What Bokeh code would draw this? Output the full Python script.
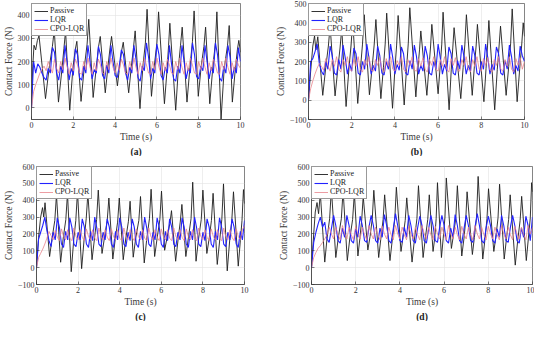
import numpy as np
from bokeh.plotting import figure
from bokeh.layouts import column, row
from bokeh.models import Title, Legend, LegendItem, FixedTicker, Range1d
from bokeh.embed import file_html
from bokeh.resources import INLINE

# sample times for the controlled responses (s)
t_grid = np.round(np.arange(0, 10.001, 0.1), 2)

# ---------------- panel (a) ----------------
a_pass_t = [0, 0.06, 0.12, 0.20, 0.28, 0.36,
            0.67, 0.84, 1.00, 1.09, 1.29, 1.45, 1.55, 1.63, 1.83, 1.98, 2.09, 2.17,
            2.37, 2.52, 2.66, 2.74, 2.95, 3.10, 3.21, 3.29, 3.53, 3.66, 3.76, 3.83,
            4.11, 4.22, 4.32, 4.39, 4.65, 4.78, 4.88, 4.96, 5.19, 5.33, 5.45, 5.53,
            5.74, 5.88, 6.00, 6.08, 6.36, 6.49, 6.56, 6.62, 6.90, 7.03, 7.13, 7.21,
            7.44, 7.58, 7.70, 7.78, 7.98, 8.12, 8.25, 8.33, 8.53, 8.68, 8.80, 8.87,
            9.07, 9.22, 9.38, 9.46, 9.61, 9.76, 9.85, 9.92, 10.0]
a_pass_v = [0, 180, 270, 250, 290, 311,
            40, 170, 265, 336, 25, 160, 255, 332, -10, 170, 250, 287,
            28, 170, 275, 382, 45, 175, 265, 308, 65, 180, 260, 308,
            95, 180, 250, 283, 65, 180, 260, 332, -3, 180, 280, 425,
            50, 185, 280, 414, 18, 170, 270, 365, -10, 175, 270, 348,
            25, 175, 285, 418, 50, 180, 265, 348, 18, 180, 280, 414,
            -48, 170, 270, 355, 25, 175, 250, 291, 240]
a_lqr = [0, 200, 150, 190, 175, 150, 130, 120, 170, 150, 260,
         240, 150, 120, 180, 150, 270, 200, 120, 170, 140,
         255, 230, 130, 120, 180, 150, 270, 200, 125, 165,
         150, 265, 230, 140, 125, 185, 150, 270, 200, 140,
         130, 180, 250, 230, 150, 120, 175, 150, 270, 210,
         130, 115, 180, 160, 280, 220, 125, 170, 150, 275,
         230, 140, 120, 175, 150, 270, 190, 125, 115, 180,
         150, 270, 200, 125, 170, 150, 280, 230, 135, 125,
         180, 160, 270, 200, 125, 175, 150, 280, 230, 130,
         115, 180, 150, 270, 220, 125, 175, 150, 260, 200]
a_cpo = [0, 70, 100, 125, 150, 165, 180, 160, 200, 175, 150,
         210, 170, 150, 200, 165, 215, 180, 145, 195, 160,
         210, 185, 150, 145, 200, 165, 215, 175, 145, 195,
         160, 210, 185, 150, 145, 200, 165, 215, 175, 150,
         195, 160, 210, 185, 150, 145, 200, 165, 215, 175,
         145, 195, 160, 215, 185, 150, 145, 200, 165, 215,
         175, 145, 195, 160, 210, 185, 150, 145, 200, 165,
         215, 175, 145, 195, 160, 215, 185, 150, 145, 200,
         165, 215, 175, 145, 195, 160, 210, 185, 150, 145,
         200, 165, 215, 175, 145, 195, 160, 210, 185, 170]

# ---------------- panel (b) ----------------
b_pass_t = [0, 0.10, 0.20, 0.28, 0.34, 0.43,
            0.66, 0.80, 0.92, 1.00, 1.23, 1.36, 1.46, 1.54, 1.74, 1.87, 1.97, 2.05,
            2.28, 2.41, 2.50, 2.58, 2.82, 2.95, 3.04, 3.12, 3.35, 3.47, 3.55, 3.62,
            3.89, 4.00, 4.08, 4.15, 4.43, 4.54, 4.62, 4.69, 4.97, 5.07, 5.14, 5.20,
            5.48, 5.58, 5.65, 5.71, 6.00, 6.10, 6.17, 6.23, 6.51, 6.61, 6.68, 6.74,
            7.05, 7.16, 7.24, 7.31, 7.58, 7.68, 7.76, 7.82, 8.12, 8.22, 8.29, 8.35,
            8.62, 8.74, 8.82, 8.89, 9.15, 9.27, 9.36, 9.43, 9.66, 9.78, 9.87, 9.94, 10.0]
b_pass_v = [0, 150, 280, 333, 260, 328,
            25, 170, 280, 383, 22, 165, 270, 372, -33, 160, 285, 405,
            -17, 170, 290, 442, 28, 175, 285, 417, 8, 170, 290, 450,
            -42, 160, 285, 438, -25, 165, 295, 478, 17, 170, 260, 358,
            25, 175, 275, 392, 33, 180, 290, 455, -50, 160, 270, 375,
            8, 170, 290, 442, 25, 175, 280, 392, -8, 165, 285, 412,
            -50, 160, 275, 383, 25, 175, 295, 472, -8, 165, 285, 400, 330]
b_lqr = [0, 200, 215, 250, 290, 190, 150, 130, 200, 160, 280,
         230, 140, 130, 210, 160, 285, 220, 135, 190, 150,
         270, 240, 140, 130, 200, 160, 290, 220, 135, 180,
         150, 280, 230, 140, 130, 200, 160, 290, 220, 135,
         185, 155, 275, 240, 140, 130, 205, 160, 285, 225,
         135, 180, 150, 280, 230, 140, 130, 200, 160, 290,
         220, 135, 185, 150, 275, 240, 140, 130, 205, 160,
         285, 225, 135, 180, 150, 280, 230, 140, 130, 200,
         160, 290, 220, 135, 185, 155, 275, 240, 140, 130,
         205, 160, 285, 225, 135, 180, 150, 280, 230, 200]
b_cpo = [0, 60, 100, 135, 165, 190, 175, 155, 215, 180, 150,
         210, 175, 225, 160, 145, 210, 180, 225, 160, 150,
         215, 175, 225, 160, 145, 210, 180, 225, 155, 150,
         210, 180, 220, 160, 145, 215, 175, 225, 160, 150,
         205, 180, 225, 160, 145, 210, 180, 225, 155, 150,
         215, 175, 220, 160, 145, 210, 180, 225, 160, 150,
         210, 175, 225, 160, 145, 215, 180, 220, 155, 150,
         210, 180, 225, 160, 145, 210, 175, 225, 160, 150,
         215, 180, 220, 155, 145, 210, 180, 225, 160, 150,
         210, 175, 225, 160, 145, 215, 180, 220, 160, 200]

# ---------------- panel (c) ----------------
c_pass_t = [0, 0.10, 0.20, 0.29, 0.35, 0.41,
            0.63, 0.75, 0.88, 0.96, 1.16, 1.28, 1.41, 1.49, 1.67, 1.79, 1.89, 1.97,
            2.17, 2.29, 2.39, 2.47, 2.67, 2.79, 2.89, 2.97, 3.15, 3.27, 3.40, 3.48,
            3.67, 3.79, 3.90, 3.98, 4.17, 4.29, 4.42, 4.50, 4.65, 4.77, 4.92, 5.00,
            5.18, 5.30, 5.43, 5.51, 5.68, 5.80, 5.93, 6.01, 6.16, 6.28, 6.41, 6.49,
            6.69, 6.81, 6.91, 6.99, 7.18, 7.30, 7.43, 7.51, 7.67, 7.79, 7.92, 8.00,
            8.19, 8.31, 8.41, 8.49, 8.69, 8.81, 8.91, 8.99, 9.17, 9.29, 9.39, 9.47,
            9.70, 9.80, 9.88, 9.95, 10.0]
c_pass_v = [0, 180, 300, 356, 300, 385,
            66, 175, 280, 431, 32, 170, 285, 441, -24, 165, 280, 450,
            -6, 170, 290, 441, 47, 175, 285, 460, 84, 180, 280, 413,
            51, 175, 270, 413, 47, 170, 275, 394, 62, 175, 280, 422,
            28, 170, 290, 465, 66, 175, 285, 454, 103, 180, 260, 338,
            38, 170, 270, 375, 66, 175, 290, 507, 38, 170, 285, 460,
            84, 180, 280, 441, 19, 165, 285, 497, -19, 165, 280, 450,
            9, 160, 280, 463, 380]
c_lqr = [0, 170, 210, 250, 300, 220, 160, 125, 210, 165, 295,
         240, 140, 120, 215, 165, 295, 240, 140, 125, 210,
         165, 290, 240, 140, 120, 215, 160, 300, 235, 140,
         125, 210, 165, 290, 240, 140, 120, 215, 165, 295,
         240, 140, 125, 210, 160, 290, 240, 140, 120, 215,
         165, 300, 235, 140, 125, 210, 165, 295, 240, 140,
         120, 215, 160, 290, 240, 140, 125, 210, 165, 295,
         240, 140, 120, 215, 165, 300, 235, 140, 125, 210,
         160, 290, 240, 140, 120, 215, 165, 295, 240, 140,
         125, 210, 165, 290, 240, 140, 120, 215, 165, 280]
c_cpo = [0, 60, 85, 110, 140, 175, 215, 190, 165, 220, 180,
         160, 230, 185, 165, 225, 175, 160, 235, 185, 165,
         225, 180, 160, 230, 185, 165, 225, 175, 160, 235,
         185, 165, 225, 180, 160, 230, 185, 165, 225, 175,
         160, 235, 185, 165, 225, 180, 160, 230, 185, 165,
         225, 175, 160, 235, 185, 165, 225, 180, 160, 230,
         185, 165, 225, 175, 160, 235, 185, 165, 225, 180,
         160, 230, 185, 165, 225, 175, 160, 235, 185, 165,
         225, 180, 160, 230, 185, 165, 225, 175, 160, 235,
         185, 165, 225, 180, 160, 230, 185, 165, 225, 250]

# ---------------- panel (d) ----------------
d_pass_t = [0, 0.10, 0.17, 0.25, 0.32, 0.40,
            0.60, 0.70, 0.82, 0.90, 1.10, 1.21, 1.35, 1.43, 1.62, 1.73, 1.86, 1.94,
            2.10, 2.19, 2.27, 2.34, 2.55, 2.65, 2.75, 2.82, 3.04, 3.14, 3.24, 3.31,
            3.55, 3.66, 3.77, 3.84, 4.05, 4.14, 4.24, 4.31, 4.55, 4.66, 4.77, 4.84,
            5.05, 5.15, 5.26, 5.33, 5.50, 5.58, 5.64, 5.70, 5.88, 5.96, 6.04, 6.10,
            6.33, 6.42, 6.53, 6.60, 6.80, 6.90, 6.98, 7.04, 7.28, 7.37, 7.47, 7.54,
            7.75, 7.85, 7.94, 8.01, 8.25, 8.34, 8.44, 8.51, 8.72, 8.82, 8.92, 8.99,
            9.22, 9.33, 9.44, 9.51, 9.72, 9.81, 9.90, 9.96, 10.0]
d_pass_v = [0, 200, 330, 386, 320, 441,
            33, 170, 290, 468, 60, 175, 290, 459, 42, 170, 285, 441,
            69, 175, 280, 423, 105, 185, 290, 459, 60, 175, 285, 432,
            42, 170, 290, 477, 96, 180, 280, 414, 33, 170, 290, 486,
            60, 175, 285, 432, 96, 180, 290, 504, 60, 175, 300, 532,
            114, 190, 295, 486, 69, 175, 285, 450, 78, 180, 300, 541,
            51, 170, 290, 468, 96, 180, 295, 495, 51, 170, 285, 432,
            15, 160, 280, 423, 42, 170, 295, 504, 450]
d_lqr = [0, 150, 210, 260, 300, 240, 270, 170, 150, 230, 310,
         250, 160, 145, 235, 180, 310, 250, 160, 145, 230,
         180, 305, 250, 160, 150, 240, 310, 250, 160, 145,
         235, 180, 315, 250, 160, 145, 230, 320, 250, 160,
         150, 240, 180, 310, 250, 160, 145, 235, 305, 250,
         160, 145, 230, 310, 250, 160, 150, 240, 310, 250,
         160, 145, 235, 180, 315, 250, 160, 145, 230, 310,
         250, 160, 150, 240, 320, 250, 160, 145, 235, 305,
         250, 160, 145, 230, 180, 310, 250, 160, 150, 240,
         310, 250, 160, 145, 235, 180, 305, 250, 160, 300]
d_cpo = [0, 60, 90, 115, 130, 150, 170, 195, 240, 200, 170,
         240, 195, 165, 250, 200, 170, 240, 195, 165, 245,
         200, 170, 240, 195, 165, 250, 200, 170, 240, 195,
         165, 245, 200, 170, 240, 195, 165, 250, 200, 170,
         240, 195, 165, 245, 200, 170, 240, 195, 165, 250,
         200, 170, 240, 195, 165, 245, 200, 170, 240, 195,
         165, 250, 200, 170, 240, 195, 165, 245, 200, 170,
         240, 195, 165, 250, 200, 170, 240, 195, 165, 245,
         200, 170, 240, 195, 165, 250, 200, 170, 240, 195,
         165, 245, 200, 170, 240, 195, 165, 250, 200, 240]

x_ticks = [0, 2, 4, 6, 8, 10]
series_names = ["Passive", "LQR", "CPO-LQR"]

FONT = "Liberation Serif"
C_PASS = "#1e1e1e"
C_LQR = "#2222ff"
C_CPO = "#e8848c"
AX = "#333333"


def panel(tag, tp, vp, lqr, cpo, yr, yticks, width, height, mbl, mbr, mbt, mbb):
    p = figure(width=width, height=height, x_range=Range1d(0, 10), y_range=Range1d(*yr),
               output_backend="svg", toolbar_location=None, title=None,
               min_border_left=mbl, min_border_right=mbr, min_border_top=mbt, min_border_bottom=mbb)
    r1 = p.line(tp, vp, line_color=C_PASS, line_width=0.9)
    r2 = p.line(t_grid, lqr, line_color=C_LQR, line_width=1.1)
    r3 = p.line(t_grid, cpo, line_color=C_CPO, line_width=0.8)
    leg = Legend(items=[LegendItem(label=series_names[0], renderers=[r1]),
                        LegendItem(label=series_names[1], renderers=[r2]),
                        LegendItem(label=series_names[2], renderers=[r3])],
                 location="top_left", margin=0, padding=2, spacing=0,
                 label_text_font=FONT, label_text_font_size="8px", label_height=8,
                 label_text_color="#222222",
                 glyph_height=8, glyph_width=14, label_standoff=2,
                 border_line_color=AX, border_line_width=0.6, background_fill_alpha=1)
    p.add_layout(leg)
    p.xaxis.ticker = FixedTicker(ticks=x_ticks)
    p.yaxis.ticker = FixedTicker(ticks=yticks)
    p.xaxis.axis_label = "Time (s)"
    p.yaxis.axis_label = "Contact Force (N)"
    for ax in (p.xaxis, p.yaxis):
        ax.major_label_text_font = FONT
        ax.major_label_text_font_size = "8px"
        ax.major_label_text_color = AX
        ax.axis_label_text_font = FONT
        ax.axis_label_text_font_size = "9.5px"
        ax.axis_label_text_font_style = "normal"
        ax.axis_label_text_color = "#3a3a3a"
        ax.major_tick_in = 3
        ax.major_tick_out = 0
        ax.minor_tick_line_color = None
        ax.axis_line_color = AX
        ax.axis_line_width = 0.6
        ax.major_tick_line_color = AX
        ax.major_tick_line_width = 0.6
        ax.major_label_standoff = 2
        ax.axis_label_standoff = 1
    p.outline_line_color = AX
    p.outline_line_alpha = 1
    p.outline_line_width = 0.6
    p.grid.grid_line_color = "#e2e2e2"
    p.grid.grid_line_width = 0.6
    p.add_layout(Title(text=tag, align="center", text_font=FONT, text_font_size="9.5px",
                       text_font_style="bold", text_color="#222222", standoff=0, offset=0), "below")
    return p


pa = panel("(a)", a_pass_t, a_pass_v, a_lqr, a_cpo, (-50, 450), [0, 100, 200, 300, 400],
           267, 156, 26, 27, 3, 33)
pb = panel("(b)", b_pass_t, b_pass_v, b_lqr, b_cpo, (-100, 500), [-100, 0, 100, 200, 300, 400, 500],
           267, 156, 41, 10, 3, 33)
pc = panel("(c)", c_pass_t, c_pass_v, c_lqr, c_cpo, (-100, 600), [-100, 0, 100, 200, 300, 400, 500, 600],
           267, 165, 23, 23, 10, 33)
pd = panel("(d)", d_pass_t, d_pass_v, d_lqr, d_cpo, (-100, 600), [-100, 0, 100, 200, 300, 400, 500, 600],
           267, 165, 44, 2, 10, 31)

layout = column(row(pa, pb), row(pc, pd))
open("out.html", "w").write(file_html(layout, INLINE))
